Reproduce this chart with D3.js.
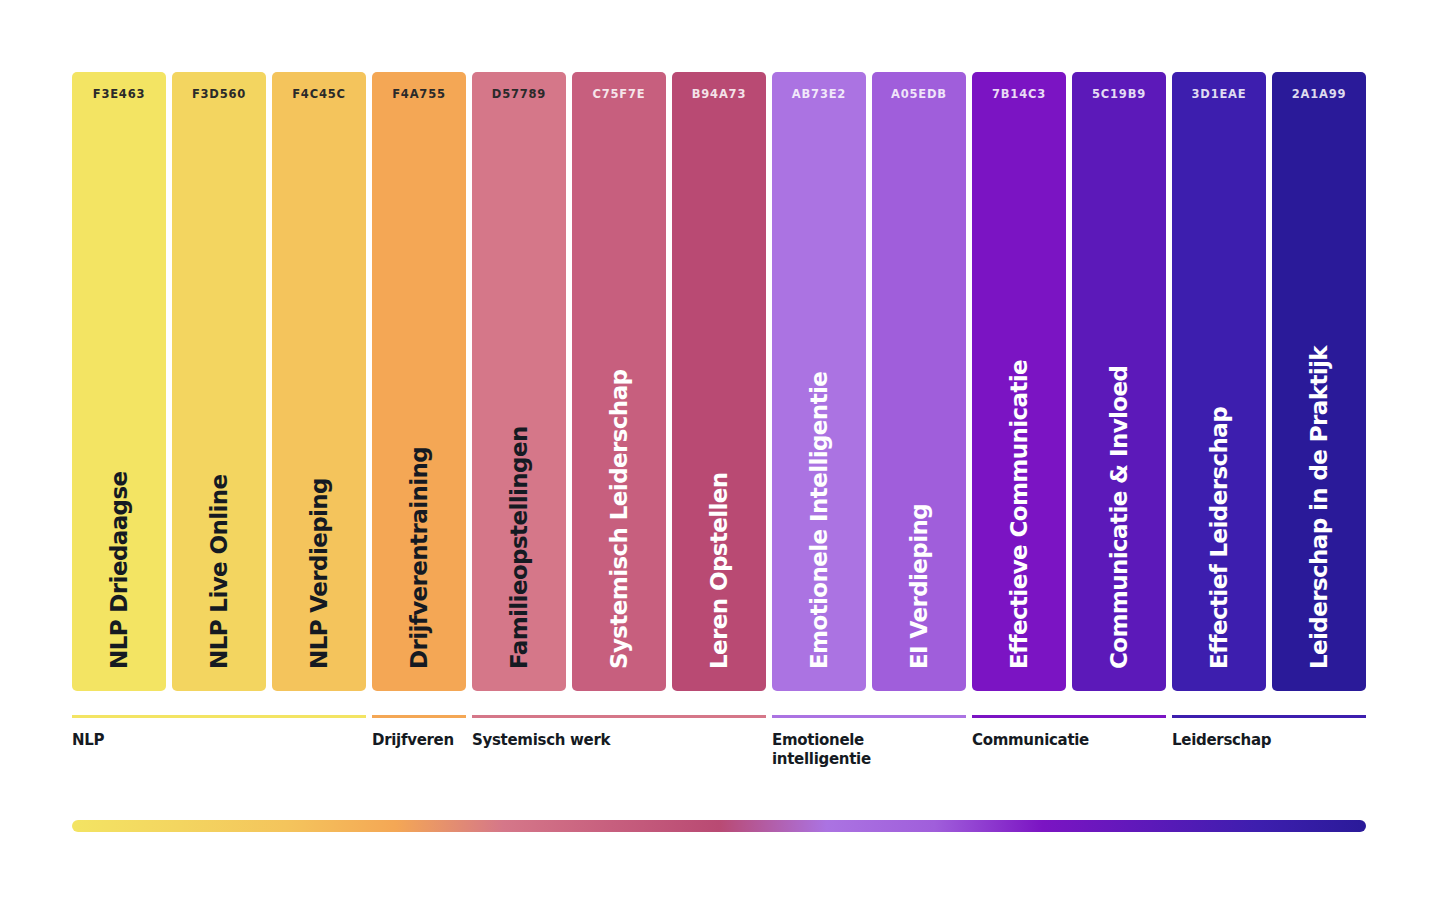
<!DOCTYPE html>
<html><head><meta charset="utf-8">
<script src="https://cdn.jsdelivr.net/npm/d3@7"></script>
<style>body{margin:0;background:#fff}svg{display:block}</style>
</head><body><div id="chart"></div>
<script>
var names = ['NLP Driedaagse','NLP Live Online','NLP Verdieping','Drijfverentraining','Familieopstellingen','Systemisch Leiderschap','Leren Opstellen','Emotionele Intelligentie','EI Verdieping','Effectieve Communicatie','Communicatie & Invloed','Effectief Leiderschap','Leiderschap in de Praktijk'];
var hexes = ['F3E463','F3D560','F4C45C','F4A755','D57789','C75F7E','B94A73','AB73E2','A05EDB','7B14C3','5C19B9','3D1EAE','2A1A99'];
var groups = ['NLP','Drijfveren','Systemisch werk','Emotionele\nintelligentie','Communicatie','Leiderschap'];
var groupStart = [0,3,4,7,9,11];
var groupEnd = [2,3,6,8,10,12];
var darkText = 5; // first five items use dark text

var W = 1440, H = 900, ink = '#151a22';
var svg = d3.select('#chart').append('svg').attr('width', W).attr('height', H);

var x = d3.scaleBand().domain(d3.range(hexes.length)).range([72, 1366]).paddingInner(0.06).paddingOuter(0);
var bw = x.bandwidth();
var barTop = 72, barBottom = 691;

var bars = svg.selectAll('g.bar').data(hexes).enter().append('g').attr('class','bar')
  .attr('transform', function(d,i){ return 'translate(' + x(i) + ',0)'; });
bars.append('rect').attr('y', barTop).attr('width', bw).attr('height', barBottom - barTop)
  .attr('rx', 5).attr('fill', function(d){ return '#' + d; });
bars.append('text').attr('x', bw/2).attr('y', 98).attr('text-anchor','middle')
  .attr('font-family','DejaVu Sans').attr('font-weight','bold').attr('font-size',11.5)
  .attr('letter-spacing', 0.8)
  .attr('fill', function(d,i){ return i < darkText ? '#2a2a2a' : 'rgba(255,255,255,0.85)'; })
  .text(function(d){ return d; });
bars.append('text').attr('transform','translate(55,669) rotate(-90)')
  .attr('font-family','DejaVu Sans').attr('font-weight','bold').attr('font-size',23)
  .attr('letter-spacing', -0.6)
  .attr('fill', function(d,i){ return i < darkText ? ink : '#fff'; })
  .text(function(d,i){ return names[i]; });

var g = svg.selectAll('g.grp').data(groups).enter().append('g').attr('class','grp');
g.append('rect').attr('x', function(d,i){ return x(groupStart[i]); }).attr('y', 715)
  .attr('width', function(d,i){ return x(groupEnd[i]) + bw - x(groupStart[i]); }).attr('height', 3)
  .attr('fill', function(d,i){ return '#' + hexes[groupStart[i]]; });
g.append('text').attr('font-family','DejaVu Sans').attr('font-weight','bold').attr('font-size',15)
  .attr('fill', ink).attr('letter-spacing', -0.3)
  .each(function(d,i){
    var t = d3.select(this);
    d.split('\n').forEach(function(line,k){
      t.append('tspan').attr('x', x(groupStart[i])).attr('y', 745 + k*19).text(line);
    });
  });

var grad = svg.append('defs').append('linearGradient').attr('id','grad');
grad.selectAll('stop').data(hexes).enter().append('stop')
  .attr('offset', function(d,i){ return (i/(hexes.length-1)*100) + '%'; })
  .attr('stop-color', function(d){ return '#' + d; });
svg.append('rect').attr('x',72).attr('y',820).attr('width',1294).attr('height',12).attr('rx',6)
  .attr('fill','url(#grad)');
</script></body></html>
